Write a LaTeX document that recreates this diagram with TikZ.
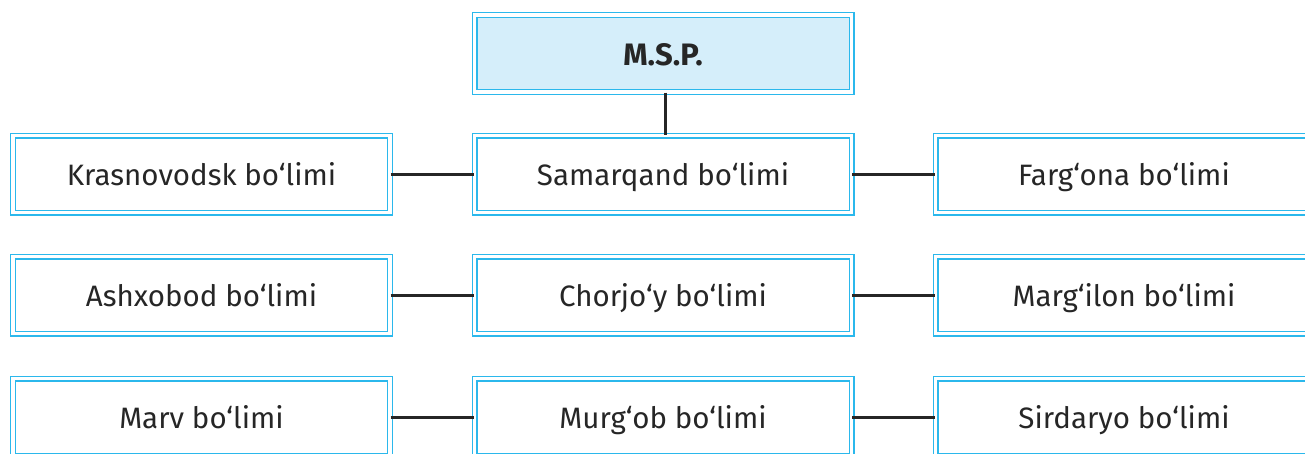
\documentclass[tikz,border=0pt]{standalone}
\usepackage{fontspec}
\setmainfont{Fira Sans}
\definecolor{bord}{HTML}{2BB8EC}
\definecolor{topfill}{HTML}{D5EEFA}
\definecolor{txt}{HTML}{262626}
\definecolor{conn}{HTML}{262626}
\begin{document}
\begin{tikzpicture}[x=1pt,y=-1pt,
  box/.style={draw=bord, line width=1.4pt, double=white, double distance=3.2pt,
    minimum width=377pt, minimum height=77pt, inner sep=0pt, text=txt,
    text height=23.4pt, text depth=0pt, fill=white,
    font=\fontsize{29.5}{33}\selectfont},
  topbox/.style={box, fill=topfill, font=\fontsize{31}{35}\selectfont\bfseries},
  conn/.style={draw=conn, line width=3pt}]
\useasboundingbox (0,0) rectangle (1305,453);
\clip (0,0) rectangle (1305,453);
\node[topbox] (msp) at (663,53.5) {M.S.P.};
\node[box] (kr) at (201.5,174) {Krasnovodsk bo‘limi};
\node[box] (sa) at (663,174) {Samarqand bo‘limi};
\node[box] (fa) at (1124,174) {Farg‘ona bo‘limi};
\node[box] (as) at (201.5,295) {Ashxobod bo‘limi};
\node[box] (ch) at (663,295) {Chorjo‘y bo‘limi};
\node[box] (ma) at (1124,295) {Marg‘ilon bo‘limi};
\node[box] (mv) at (201.5,417) {Marv bo‘limi};
\node[box] (mu) at (663,417) {Murg‘ob bo‘limi};
\node[box] (si) at (1124,417) {Sirdaryo bo‘limi};
\draw[conn] ([xshift=2.5pt]msp.south) -- ([xshift=2.5pt]sa.north);
\draw[conn] (kr.east) -- (sa.west);
\draw[conn] (sa.east) -- (fa.west);
\draw[conn] (as.east) -- (ch.west);
\draw[conn] (ch.east) -- (ma.west);
\draw[conn] (mv.east) -- (mu.west);
\draw[conn] (mu.east) -- (si.west);
\end{tikzpicture}
\end{document}
